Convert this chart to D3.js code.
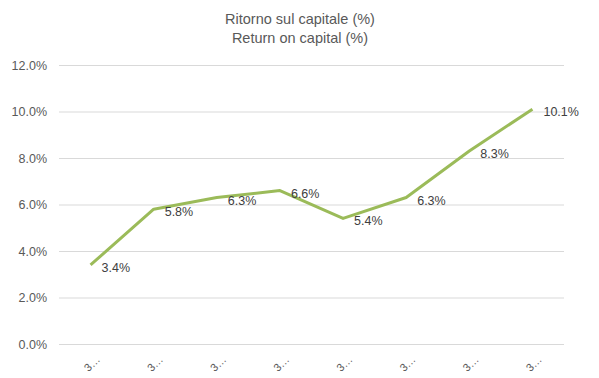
<!DOCTYPE html>
<html><head><meta charset="utf-8">
<script src="https://cdn.jsdelivr.net/npm/d3@7"></script>
<style>body{margin:0;background:#fff}svg{display:block}</style>
</head><body>
<svg id="c" width="599" height="378"></svg>
<script>
const categories = ["3…","3…","3…","3…","3…","3…","3…","3…"];
const values = [3.4, 5.8, 6.3, 6.6, 5.4, 6.3, 8.3, 10.1];
const yTicks = [0, 2, 4, 6, 8, 10, 12];
const titleLines = ["Ritorno sul capitale (%)", "Return on capital (%)"];

const svg = d3.select("#c");
const font = "'Liberation Sans', Arial, sans-serif";
const m = {l: 59, r: 35, t: 65, b: 34};
const W = 599, H = 378;
const x = d3.scaleBand().domain(d3.range(categories.length)).range([m.l, W - m.r]);
const y = d3.scaleLinear().domain([0, 12]).range([H - m.b, m.t]);

svg.append("g").selectAll("text").data(titleLines).join("text")
  .attr("x", 300).attr("y", (d, i) => 24 + i * 19)
  .attr("text-anchor", "middle").attr("font-family", font).attr("font-size", 14.5)
  .attr("fill", "#595959").text(d => d);

const ya = svg.append("g").attr("transform", `translate(${m.l},0)`)
  .call(d3.axisLeft(y).tickValues(yTicks).tickSize(-(W - m.l - m.r)).tickPadding(12).tickFormat(d => d.toFixed(1) + "%"));
ya.select(".domain").remove();
ya.selectAll("line").attr("stroke", "#d9d9d9");
ya.selectAll("text").attr("font-family", font).attr("font-size", 12.5).attr("fill", "#595959");

const xa = svg.append("g").attr("transform", `translate(0,${H - m.b})`)
  .call(d3.axisBottom(x).tickSize(0).tickFormat(i => categories[i]));
xa.select(".domain").remove();
xa.selectAll("text").attr("font-family", font).attr("font-size", 11).attr("fill", "#595959")
  .attr("text-anchor", "end").attr("dy", 0).attr("transform", "translate(8,14) rotate(-45)");

const cx = i => x(i) + x.bandwidth() / 2;
svg.append("path").datum(values)
  .attr("fill", "none").attr("stroke", "#9BBB59").attr("stroke-width", 3)
  .attr("stroke-linejoin", "round")
  .attr("d", d3.line().x((d, i) => cx(i)).y(d => y(d)));

svg.append("g").selectAll("text").data(values).join("text")
  .attr("x", (d, i) => cx(i) + 11).attr("y", d => y(d) + 7)
  .attr("font-family", font).attr("font-size", 12.5).attr("fill", "#404040")
  .text(d => d.toFixed(1) + "%");
</script>
</body></html>
